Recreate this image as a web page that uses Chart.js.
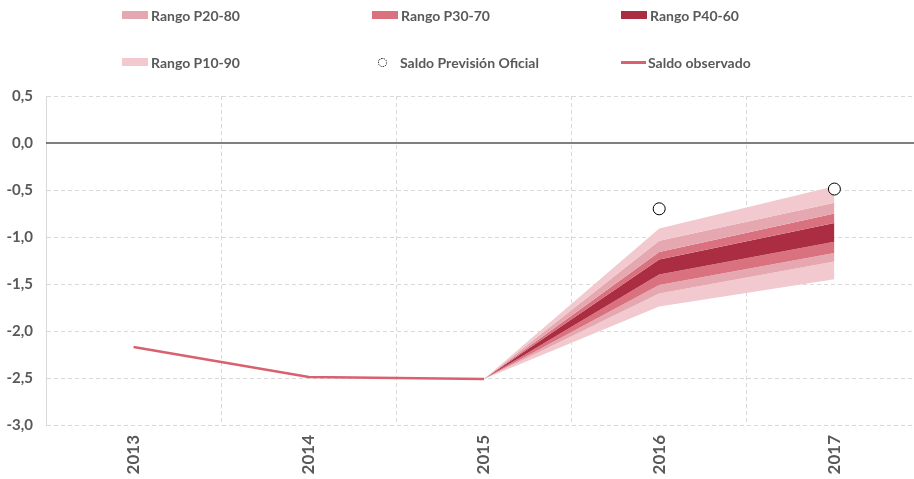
<!DOCTYPE html>
<html>
<head>
<meta charset="utf-8">
<script src="https://cdn.jsdelivr.net/npm/chart.js@4"></script>
<style>
  body { margin: 0; background: #fff; overflow: hidden; }
  #wrap { position: relative; width: 914px; height: 479px; overflow: hidden; }
  #legend { position: absolute; left: 0; top: 0; width: 914px; height: 90px; font-family: Lato, sans-serif; font-weight: bold; font-size: 14px; color: #595959; }
  .item { position: absolute; height: 18px; display: flex; align-items: center; white-space: nowrap; }
  .sw { width: 26px; height: 8px; margin-right: 3px; }
</style>
</head>
<body>
<div id="wrap">
  <canvas id="myChart" width="922" height="479"></canvas>
  <div id="legend">
    <div class="item" style="left:122px;top:6px"><div class="sw" style="background:#e6a8b0"></div><span>Rango P20-80</span></div>
    <div class="item" style="left:372px;top:6px"><div class="sw" style="background:#d9717f"></div><span>Rango P30-70</span></div>
    <div class="item" style="left:621px;top:6px"><div class="sw" style="background:#ab2d41"></div><span>Rango P40-60</span></div>
    <div class="item" style="left:122px;top:53px"><div class="sw" style="background:#f1c9cf"></div><span>Rango P10-90</span></div>
    <div class="item" style="left:378px;top:53px"><div style="width:7px;height:7px;border:1px dotted #000;border-radius:50%;margin-right:13px"></div><span>Saldo Previsión Oficial</span></div>
    <div class="item" style="left:621px;top:53px"><div style="width:25px;height:3px;background:#d9606f;margin-right:2px"></div><span>Saldo observado</span></div>
  </div>
</div>
<script>
// Saldo observado y abanico de previsiones
var years = ["2013", "2014", "2015", "2016", "2017"];
var observado = [-2.17, -2.49, -2.51, null, null];
var prevOficial = [null, null, null, -0.70, -0.49];

// percentiles (2015 = punto de partida)
var p90 = [null, null, -2.51, -0.91, -0.46];
var p80 = [null, null, -2.51, -1.04, -0.635];
var p70 = [null, null, -2.51, -1.16, -0.75];
var p60 = [null, null, -2.51, -1.24, -0.85];
var p40 = [null, null, -2.51, -1.40, -1.05];
var p30 = [null, null, -2.51, -1.51, -1.17];
var p20 = [null, null, -2.51, -1.60, -1.26];
var p10 = [null, null, -2.51, -1.74, -1.45];

var cP10 = "#f1c9cf", cP20 = "#e6a8b0", cP30 = "#d9717f", cP40 = "#ab2d41";

function band(data, color, fill) {
  return {
    data: data,
    backgroundColor: color,
    borderWidth: 0,
    pointRadius: 0,
    fill: fill,
    tension: 0
  };
}

var zeroLine = {
  id: "zeroLine",
  beforeDatasetsDraw: function(chart) {
    var ctx = chart.ctx, y = Math.round(chart.scales.y.getPixelForValue(0));
    ctx.save();
    ctx.strokeStyle = "#555";
    ctx.lineWidth = 1.5;
    ctx.beginPath();
    ctx.moveTo(chart.chartArea.left, y);
    ctx.lineTo(chart.chartArea.right, y);
    ctx.stroke();
    ctx.restore();
  }
};

new Chart("myChart", {
  type: "line",
  data: {
    labels: years,
    datasets: [
      {
        data: prevOficial,
        showLine: false,
        pointRadius: 6,
        pointBackgroundColor: "#fff",
        pointBorderColor: "#000",
        pointBorderWidth: 1,
        order: -2
      },
      {
        data: observado,
        borderColor: "#d9606f",
        borderWidth: 2.5,
        pointRadius: 0,
        fill: false,
        tension: 0,
        order: -1
      },
      band(p90, cP10, "+1"),
      band(p80, cP20, "+1"),
      band(p70, cP30, "+1"),
      band(p60, cP40, "+1"),
      band(p40, cP30, "+1"),
      band(p30, cP20, "+1"),
      band(p20, cP10, "+1"),
      band(p10, cP10, false)
    ]
  },
  options: {
    responsive: false,
    animation: false,
    layout: { autoPadding: false, padding: { top: 96, right: 0, left: 0, bottom: 0 } },
    plugins: {
      legend: { display: false },
      tooltip: { enabled: false }
    },
    scales: {
      x: {
        offset: true,
        grid: { offset: true, color: "#d9d9d9", drawTicks: false },
        border: { display: false, dash: [4, 3] },
        ticks: { font: { family: "Lato", weight: "bold", size: 17 }, color: "#595959", maxRotation: 90, minRotation: 90, padding: 10 },
        afterFit: function(s) { s.height = 54; }
      },
      y: {
        min: -3,
        max: 0.5,
        grid: { color: function(c) { return c.tick && c.tick.value === 0 ? "rgba(0,0,0,0)" : "#d9d9d9"; }, drawTicks: false },
        border: { color: "#d9d9d9", dash: [4, 3] },
        ticks: {
          stepSize: 0.5,
          font: { family: "Lato", weight: "bold", size: 15 },
          color: "#595959",
          padding: 13,
          callback: function(v) { return v.toFixed(1).replace(".", ","); }
        },
        afterFit: function(s) { s.width = 46; }
      }
    }
  },
  plugins: [zeroLine]
});
</script>
</body>
</html>
